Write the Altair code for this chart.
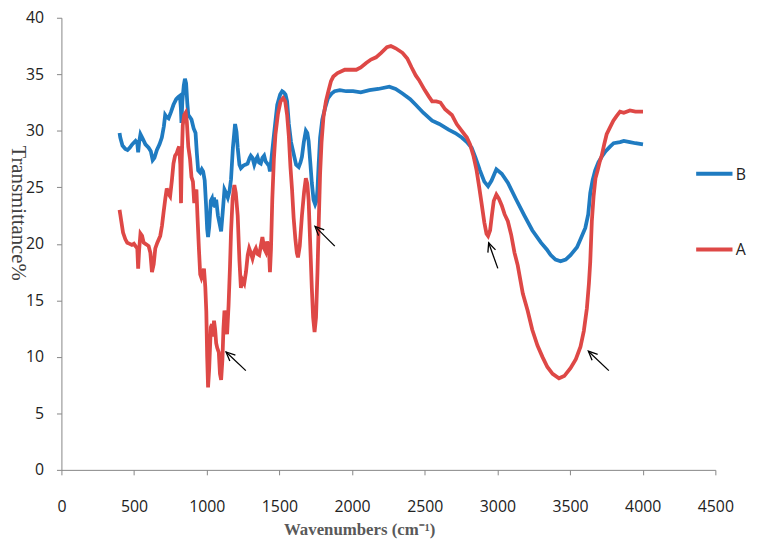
import altair as alt
import pandas as pd
import math

# ---------------- data ----------------
b_x = [400, 405, 420, 440, 455, 470, 487, 510, 522, 528, 535, 544, 560, 578, 600, 615, 628, 640, 657, 675,
       691, 705, 714, 725, 737, 755, 771, 790, 805, 815, 822, 826, 832, 842, 850, 858, 866, 873, 885, 895,
       910, 923, 932, 941, 955, 966, 975, 986, 995, 1003, 1009, 1017, 1028, 1036, 1043, 1050, 1058, 1065,
       1077, 1088, 1099, 1110, 1122, 1133, 1145, 1157, 1167, 1180, 1195, 1205, 1213, 1225, 1235, 1250, 1265,
       1281, 1295, 1303, 1315, 1327, 1340, 1349, 1360, 1372, 1383, 1395, 1405, 1417, 1428, 1435, 1445, 1463,
       1485, 1505, 1519, 1530, 1542, 1553, 1565, 1580, 1599, 1615, 1633, 1645, 1655, 1668, 1682, 1692, 1701,
       1712, 1723, 1735, 1746, 1755, 1762, 1770, 1780, 1795, 1814, 1835, 1859, 1880, 1916, 1960, 2007, 2060,
       2120, 2180, 2256, 2300, 2347, 2400, 2438, 2490, 2551, 2600, 2664, 2710, 2755, 2790, 2823, 2850, 2880,
       2910, 2936, 2960, 2993, 3030, 3072, 3130, 3186, 3240, 3300, 3340, 3367, 3400, 3435, 3470, 3503, 3548,
       3572, 3605, 3625, 3639, 3655, 3673, 3695, 3718, 3745, 3775, 3800, 3844, 3870, 3912, 3950, 4002]
b_y = [29.8, 29.4, 28.7, 28.4, 28.3, 28.5, 28.8, 29.1, 28.9, 28.1, 29.0, 29.7, 29.3, 28.8, 28.5, 28.2, 27.4, 27.6, 28.3, 28.8,
       29.4, 30.4, 31.4, 31.2, 31.1, 31.7, 32.3, 32.8, 33.0, 33.1, 32.0, 30.7, 32.6, 34.0, 34.6, 34.2, 32.5, 31.4, 31.2, 31.0,
       30.2, 29.8, 28.0, 26.5, 26.3, 26.6, 26.4, 25.6, 23.5, 21.3, 20.6, 21.5, 23.8, 24.0, 23.3, 24.1, 23.2, 23.9,
       22.5, 21.8, 21.1, 22.8, 24.8, 24.5, 24.1, 24.7, 25.7, 28.5, 30.6, 29.9, 28.5, 27.0, 26.7, 26.9, 27.0,
       27.1, 27.6, 27.8, 27.6, 27.0, 27.5, 27.7, 27.2, 27.1, 27.6, 27.8, 27.3, 27.1, 26.9, 26.4, 27.5, 29.7,
       32.3, 33.2, 33.5, 33.4, 33.2, 32.6, 30.6, 29.0, 27.9, 27.0, 26.8, 27.2, 27.7, 29.0, 30.0, 29.8, 29.1,
       27.3, 25.4, 23.9, 23.5, 23.8, 24.8, 27.0, 29.4, 31.0, 32.0, 32.9, 33.3, 33.5, 33.6, 33.5, 33.5, 33.4,
       33.6, 33.7, 33.9, 33.7, 33.3, 32.8, 32.3, 31.6, 30.9, 30.6, 30.1, 29.8, 29.4, 29.0, 28.5, 27.6, 26.5,
       25.5, 25.1, 25.6, 26.6, 26.2, 25.4, 23.9, 22.5, 21.2, 20.1, 19.5, 19.0, 18.6, 18.45, 18.6, 19.0, 19.7,
       20.4, 21.4, 22.6, 24.5, 25.6, 26.5, 27.2, 27.7, 28.2, 28.6, 28.9, 29.0, 29.1, 29.0, 28.9, 28.8]

a_x = [400, 405, 412, 424, 440, 453, 470, 485, 499, 510, 522, 528, 535, 544, 555, 566, 578, 590, 600, 612,
       623, 635, 646, 660, 680, 692, 703, 715, 725, 738, 748, 760, 771, 782, 793, 803, 810, 818, 823, 828,
       835, 845, 855, 863, 873, 885, 895, 905, 914, 922, 929, 936, 946, 955, 963, 972, 981, 990, 997, 1003,
       1009, 1017, 1028, 1036, 1043, 1050, 1058, 1065, 1072, 1083, 1091, 1099, 1108, 1115, 1122, 1131, 1140,
       1150, 1160, 1167, 1178, 1190, 1200, 1213, 1225, 1235, 1246, 1258, 1270, 1282, 1292, 1303, 1315, 1327,
       1338, 1350, 1361, 1372, 1383, 1395, 1406, 1415, 1422, 1430, 1435, 1442, 1451, 1462, 1473, 1490, 1508,
       1526, 1540, 1553, 1565, 1576, 1587, 1598, 1610, 1620, 1628, 1640, 1655, 1670, 1682, 1692, 1701, 1712,
       1723, 1732, 1742, 1752, 1762, 1771, 1780, 1790, 1803, 1820, 1837, 1855, 1871, 1900, 1950, 1990, 2029,
       2060, 2097, 2130, 2165, 2200, 2240, 2267, 2300, 2347, 2380, 2410, 2438, 2460, 2500, 2530, 2551, 2580,
       2608, 2640, 2687, 2720, 2755, 2790, 2812, 2835, 2857, 2875, 2891, 2910, 2925, 2936, 2950, 2962, 2975,
       2993, 3010, 3030, 3050, 3072, 3095, 3118, 3140, 3175, 3208, 3240, 3276, 3310, 3344, 3380, 3424, 3460,
       3503, 3540, 3572, 3595, 3616, 3630, 3639, 3650, 3662, 3675, 3690, 3705, 3718, 3735, 3752, 3775, 3798,
       3820, 3844, 3870, 3912, 3950, 4002]
a_y = [23.0, 22.6, 22.0, 21.0, 20.4, 20.1, 20.0, 19.9, 20.0, 19.8, 19.6, 17.8, 19.5, 20.9, 20.7, 20.1, 20.0, 19.9, 19.8, 19.2,
       17.5, 18.2, 19.6, 20.1, 20.7, 21.6, 22.8, 24.0, 24.9, 24.4, 24.2, 25.6, 27.1, 27.8, 28.0, 28.4, 28.6, 27.0, 23.6, 27.5,
       30.5, 31.4, 31.6, 30.8, 28.6, 27.5, 25.9, 25.5, 23.6, 24.5, 24.8, 22.5, 19.6, 17.3, 17.0, 17.4, 17.8, 16.2, 14.0, 10.0,
       7.3, 9.0, 12.6, 12.9, 11.8, 13.2, 12.4, 11.2, 10.8, 10.4, 8.5, 7.97, 9.8, 12.5, 14.1, 13.0, 12.0,
       14.5, 18.0, 21.0, 24.0, 25.2, 24.5, 22.5, 18.5, 16.1, 16.8, 16.5, 17.5, 19.0, 19.6, 19.2, 18.7, 19.3,
       19.6, 19.1, 19.0, 19.8, 20.6, 19.6, 19.3, 20.2, 19.9, 19.0, 17.5, 19.5, 23.9, 27.5, 29.7, 31.5, 32.6,
       32.9, 32.6, 31.4, 29.5, 26.8, 24.8, 22.3, 20.4, 19.2, 18.8, 19.8, 22.5, 24.6, 25.8, 25.3, 23.9, 20.0,
       16.1, 13.5, 12.2, 13.5, 17.5, 22.0, 26.2, 29.0, 31.2, 32.6, 33.5, 34.4, 34.8, 35.1, 35.4, 35.4, 35.4,
       35.6, 36.0, 36.3, 36.5, 36.9, 37.4, 37.5, 37.3, 36.9, 36.4, 35.6, 34.9, 34.5, 33.6, 33.0, 32.6, 32.6,
       32.5, 31.9, 31.4, 30.6, 30.0, 29.4, 28.8, 27.8, 26.5, 25.0, 23.6, 21.9, 20.9, 20.7, 21.2, 22.5, 23.8,
       24.35, 24.0, 23.4, 22.6, 22.0, 20.8, 19.2, 18.1, 15.6, 14.1, 12.4, 11.0, 10.0, 9.1, 8.5, 8.1, 8.3,
       9.0, 9.8, 10.9, 12.3, 14.3, 16.5, 18.4, 22.0, 24.2, 25.8, 26.5, 27.3, 27.8, 28.8, 29.7, 30.3, 30.9,
       31.3, 31.7, 31.6, 31.8, 31.7, 31.7]

# arrows (annotation): head and tail positions in data units
arrow_head_x = [1133, 1745, 2940, 3626]
arrow_head_y = [10.43, 21.54, 20.09, 10.5]
arrow_tail_x = [1269, 1881, 3003, 3767]
arrow_tail_y = [8.78, 19.8, 17.83, 8.78]

x_ticks = [0, 500, 1000, 1500, 2000, 2500, 3000, 3500, 4000, 4500]
y_ticks = [0, 5, 10, 15, 20, 25, 30, 35, 40]
series_names = ["B", "A"]
series_colors = ["#1f7bc1", "#de4846"]

# ---------------- layout ----------------
W, H = 661, 457
XMAX, YMAX = 4500, 40

df_b = pd.DataFrame({"x": b_x, "y": b_y})
df_a = pd.DataFrame({"x": a_x, "y": a_y})

px_per_x = W / XMAX
px_per_y = H / YMAX
angles = []
for hx, hy, tx, ty in zip(arrow_head_x, arrow_head_y, arrow_tail_x, arrow_tail_y):
    dx = (hx - tx) * px_per_x
    dy = -(hy - ty) * px_per_y
    angles.append(math.degrees(math.atan2(dy, dx)) % 360)
df_arrows = pd.DataFrame({"hx": arrow_head_x, "hy": arrow_head_y,
                          "tx": arrow_tail_x, "ty": arrow_tail_y, "angle": angles})

xscale = alt.Scale(domain=[0, XMAX], nice=False)
yscale = alt.Scale(domain=[0, YMAX], nice=False)

x_axis = alt.Axis(values=x_ticks, format="d", title="Wavenumbers (cm⁻¹)", labelFlush=False,
                  tickSize=5, labelPadding=24,
                  titleFont="Liberation Serif", titleFontWeight="bold", titleFontSize=17,
                  titleColor="#595959", titleX=301, titleY=65, titleAlign="center",
                  titleBaseline="alphabetic", titleAnchor="start")
y_axis = alt.Axis(values=y_ticks, format="d", title="Transmittance%", tickSize=5, labelPadding=13,
                  titleFont="Liberation Serif", titleFontWeight="normal", titleFontSize=21,
                  titleColor="#404040", titleAngle=90, titleX=-50, titleY=197,
                  titleAlign="center", titleBaseline="alphabetic", titleAnchor="start")

line_b = alt.Chart(df_b).mark_line(strokeWidth=3.8, color=series_colors[0]).encode(
    x=alt.X("x:Q", scale=xscale, axis=x_axis),
    y=alt.Y("y:Q", scale=yscale, axis=y_axis),
)
line_a = alt.Chart(df_a).mark_line(strokeWidth=3.8, color=series_colors[1]).encode(
    x=alt.X("x:Q", scale=xscale),
    y=alt.Y("y:Q", scale=yscale),
)

shafts = alt.Chart(df_arrows).mark_rule(color="black", strokeWidth=1.3).encode(
    x=alt.X("tx:Q", scale=xscale), y=alt.Y("ty:Q", scale=yscale),
    x2="hx:Q", y2="hy:Q",
)
heads = alt.Chart(df_arrows).mark_point(
    shape="M -1 -0.45 L 0 0 L -1 0.45", filled=False, color="black",
    strokeWidth=1.3, opacity=1, size=330,
).encode(
    x=alt.X("hx:Q", scale=xscale), y=alt.Y("hy:Q", scale=yscale),
    angle=alt.Angle("angle:Q", scale=None),
)

# legend (drawn by hand to the right of the plot)
leg_df = pd.DataFrame({"name": series_names})
leg_y = [157.7, 234.3]
legend_layers = []
for i, name in enumerate(series_names):
    src = leg_df[leg_df["name"] == name]
    legend_layers.append(
        alt.Chart(src).mark_rule(strokeWidth=4, color=series_colors[i]).encode(
            x=alt.value(641.6), x2=alt.value(678.3), y=alt.value(leg_y[i]))
    )
    legend_layers.append(
        alt.Chart(src).mark_text(align="left", baseline="middle", font="Open Sans",
                                 fontSize=16, color="#222222").encode(
            text="name:N", x=alt.value(681.5), y=alt.value(leg_y[i] + 1))
    )

chart = alt.layer(line_b, line_a, shafts, heads, *legend_layers).properties(
    width=W, height=H,
    padding={"left": 54, "top": 7, "right": 34, "bottom": 67},
    autosize=alt.AutoSizeParams(type="none"),
).configure_view(stroke=None).configure_axis(
    grid=False, domainColor="#868686", tickColor="#868686",
    labelFont="Open Sans", labelFontSize=16, labelColor="#222222",
)

chart.save("out.html", embed_options={"renderer": "svg", "actions": False})
